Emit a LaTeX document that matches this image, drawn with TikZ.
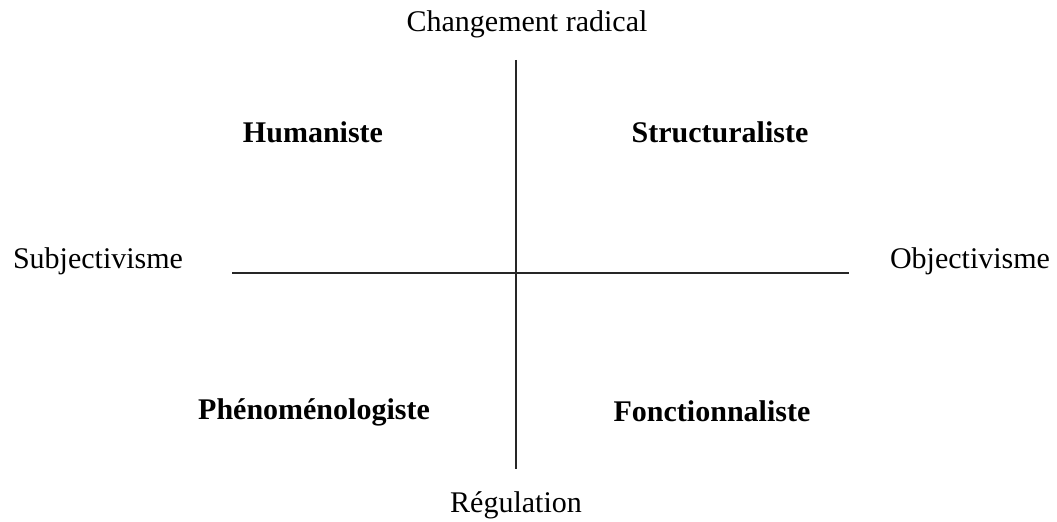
\documentclass[tikz,border=0pt]{standalone}
\usepackage{fontspec}
\setmainfont{Liberation Serif}
\begin{document}
\begin{tikzpicture}[x=0.5pt,y=-0.5pt,
  axislabel/.style={anchor=base,inner sep=0pt,font=\fontsize{15}{18}\selectfont},
  quadlabel/.style={anchor=base,inner sep=0pt,font=\fontsize{15}{18}\selectfont\bfseries},
  axisline/.style={line width=1pt,draw=black!85}]
\useasboundingbox (0,0) rectangle (1057,522);
\node[axislabel] (top) at (527,32) {Changement radical};
\node[axislabel] (bottom) at (516,513) {Régulation};
\node[axislabel] (left) at (98,269) {Subjectivisme};
\node[axislabel] (right) at (970,269) {Objectivisme};
\node[quadlabel] (hum) at (313,143) {Humaniste};
\node[quadlabel] (str) at (720,143) {Structuraliste};
\node[quadlabel] (phe) at (314,420) {Phénoménologiste};
\node[quadlabel] (fon) at (712,422) {Fonctionnaliste};
\coordinate (vt) at (516,60);
\coordinate (vb) at (516,469);
\coordinate (hl) at (232,273);
\coordinate (hr) at (849,273);
\draw[axisline] (vt) -- (vb);
\draw[axisline] (hl) -- (hr);
\end{tikzpicture}
\end{document}
